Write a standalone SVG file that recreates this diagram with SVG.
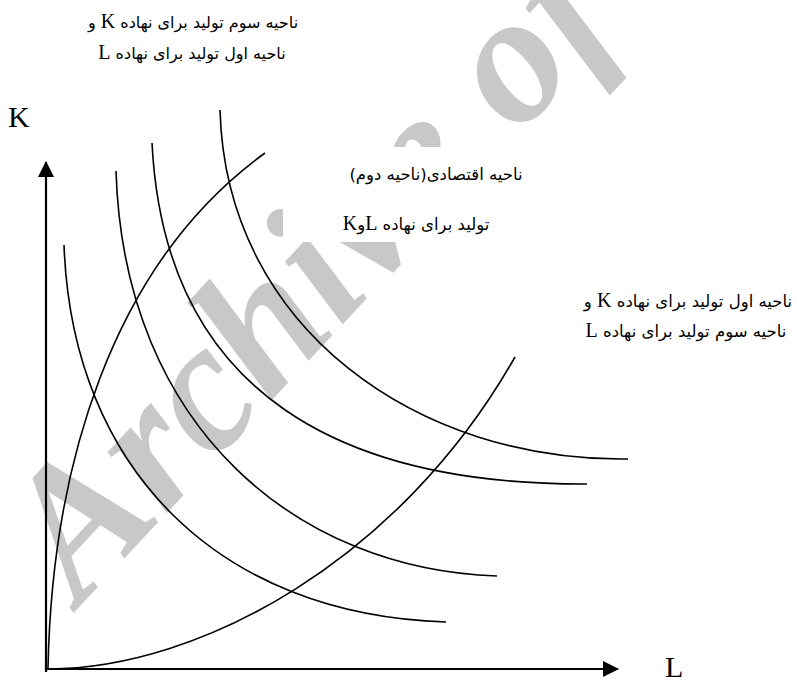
<svg xmlns="http://www.w3.org/2000/svg" width="797" height="680" viewBox="0 0 797 680">
<style>
.wm{font-family:'Liberation Serif',serif;font-weight:bold;font-style:italic;font-size:185px;fill:#c8c8c8}
.crv{fill:none;stroke:#000;stroke-width:1.6}
.ax{fill:none;stroke:#000;stroke-width:2.2}
.fa{font-family:'DejaVu Sans','Liberation Sans',sans-serif;font-size:16.5px;fill:#000}
.en{font-family:'Liberation Serif',serif;font-size:20px}
.lat{font-family:'Liberation Serif',serif;font-size:30px;fill:#000}
</style>
<defs>
<marker id="arr" viewBox="0 0 16 16" refX="15" refY="8" markerWidth="16" markerHeight="16" orient="auto" markerUnits="userSpaceOnUse"><path d="M0,0 L16,8 L0,16 z" fill="#000"/></marker>
</defs>
<rect width="797" height="680" fill="#fff"/>
<g id="watermark">
<text class="wm" transform="translate(80,606) rotate(-47)">Archive of SID</text>
</g>
<g id="label-boxes" fill="#fff">
<rect x="283" y="147" width="260" height="95"/>
</g>
<g id="axes">
<line class="ax" x1="46" y1="672" x2="46" y2="162" marker-end="url(#arr)"/>
<line class="ax" x1="45" y1="669" x2="618" y2="669" marker-end="url(#arr)"/>
</g>
<g id="isoquants">
<path id="q1" class="crv" d="M64,245 C72,470 220,615 446,622"/>
<path id="q2" class="crv" d="M116,171 C124,430 300,570 497,576"/>
<path id="q3" class="crv" d="M152,143 C165,400 350,485 587,484"/>
<path id="q4" class="crv" d="M220,110 C226,330 420,462 628,459"/>
</g>
<g id="ridge-lines">
<path id="ridge-upper" class="crv" d="M48,668 C52,470 110,265 265,153"/>
<path id="ridge-lower" class="crv" d="M48,669 C200,669 400,560 515,357"/>
</g>
<g id="axis-labels">
<text class="lat" x="8" y="127">K</text>
<text class="lat" x="665" y="677">L</text>
</g>
<g id="label-top-left" class="fa" text-anchor="middle" direction="rtl">
<text x="193" y="28" font-size="16">ناحیه سوم تولید برای نهاده <tspan class="en">K</tspan> و</text>
<text x="192" y="59" font-size="16">ناحیه اول تولید برای نهاده <tspan class="en">L</tspan></text>
</g>
<g id="label-middle" class="fa" text-anchor="middle" direction="rtl">
<text x="436" y="180">ناحیه اقتصادی(ناحیه دوم)</text>
<text x="416" y="230">تولید برای نهاده <tspan class="en">L</tspan>و<tspan class="en">K</tspan></text>
</g>
<g id="label-right" class="fa" text-anchor="middle" direction="rtl">
<text x="688" y="307">ناحیه اول تولید برای نهاده  <tspan class="en">K</tspan> و</text>
<text x="686" y="337">ناحیه سوم تولید برای نهاده <tspan class="en">L</tspan></text>
</g>
</svg>
